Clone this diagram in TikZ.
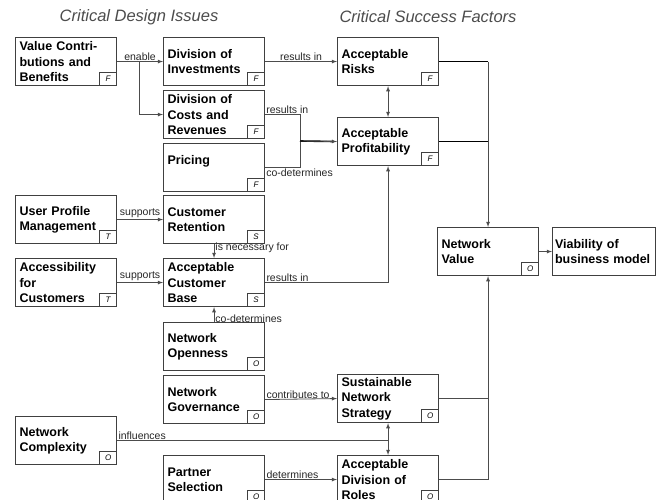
\documentclass[tikz,border=0pt]{standalone}
\usepackage{fontspec}
\setmainfont{Liberation Sans}
\usetikzlibrary{arrows}

\tikzset{
  box/.style={draw=black!75, line width=1.1pt, anchor=north west, minimum width=101pt,
    minimum height=48pt, text width=93pt, inner xsep=4pt, inner ysep=2pt, align=left,
    font=\bfseries\fontsize{12.5}{15.5}\selectfont},
  tag/.style={draw=black!75, line width=0.9pt, anchor=south east, minimum width=17pt,
    minimum height=13pt, inner sep=0pt, font=\itshape\fontsize{8}{8}\selectfont},
  lbl/.style={font=\fontsize{10.5}{12}\selectfont, inner sep=1pt, text=black!85},
  conn/.style={draw=black!70, line width=0.8pt},
  heavy/.style={draw=black, line width=1.6pt},
  title/.style={font=\itshape\fontsize{16.5}{18}\selectfont, text=black!70}
}
\newcommand{\tagat}[2]{\node[tag] (#1-tag) at (#1.south east) {#2};}

\begin{document}
\begin{tikzpicture}[x=1pt,y=-1pt,>=latex]
\useasboundingbox (0,0) rectangle (665,500);
\clip (0,0) rectangle (665,500);

% headings
\node[title] (cdi) at (139,17) {Critical Design Issues};
\node[title] (csf) at (428,17) {Critical Success Factors};

% design issues
\node[box] (vc) at (15,37) {Value Contri-\\butions and\\Benefits}; \tagat{vc}{F}
\node[box] (inv) at (163,37) {Division of\\Investments}; \tagat{inv}{F}
\node[box] (costs) at (163,90) {Division of\\Costs and\\Revenues}; \tagat{costs}{F}
\node[box] (pricing) at (163,143) {Pricing\\~}; \tagat{pricing}{F}
\node[box] (upm) at (15,195) {User Profile\\Management}; \tagat{upm}{T}
\node[box] (ret) at (163,195) {Customer\\Retention}; \tagat{ret}{S}
\node[box] (acc) at (15,258) {Accessibility\\for\\Customers}; \tagat{acc}{T}
\node[box] (base) at (163,258) {Acceptable\\Customer\\Base}; \tagat{base}{S}
\node[box] (open) at (163,322) {Network\\Openness}; \tagat{open}{O}
\node[box] (gov) at (163,375) {Network\\Governance}; \tagat{gov}{O}
\node[box] (cplx) at (15,416) {Network\\Complexity}; \tagat{cplx}{O}
\node[box] (partner) at (163,455) {Partner\\Selection}; \tagat{partner}{O}

% success factors
\node[box] (risks) at (337,37) {Acceptable\\Risks}; \tagat{risks}{F}
\node[box] (prof) at (337,117) {Acceptable\\Profitability}; \tagat{prof}{F}
\node[box] (nv) at (437,227) {Network\\Value}; \tagat{nv}{O}
\node[box, minimum width=103pt, text width=98pt, inner xsep=2.5pt] (via) at (552,227) {Viability of\\business model};
\node[box] (sus) at (337,374) {Sustainable\\Network\\Strategy}; \tagat{sus}{O}
\node[box] (roles) at (337,455) {Acceptable\\Division of\\Roles}; \tagat{roles}{O}

% connectors
\draw[conn,->] (vc.east) -- node[lbl,above] (l-enable) {enable} (inv.west);
\draw[conn,->] (vc.east) ++(22,0) |- (costs.west);
\draw[conn,->] (inv.east) -- node[lbl,above] (l-res1) {results in} (risks.west);
\coordinate (cobr) at (300,141);
\draw[conn] (costs.east) -| (cobr |- pricing.east) -- (pricing.east);
\node[lbl,anchor=south west] (l-res2) at (costs.east) {results in};
\node[lbl,anchor=north west] (l-codet1) at (pricing.east) {co-determines};
\draw[heavy,shorten >=5pt] (cobr) -- (prof.west);
\draw[conn,->] (cobr) -- (prof.west);
\draw[conn,<->] (risks.south) -- (prof.north);
\draw[heavy] (risks.east) -- (risks.east -| nv.north);
\draw[conn,->] (risks.east -| nv.north) -- (nv.north);
\draw[heavy] (prof.east) -- (prof.east -| nv.north);
\draw[conn,->] (nv.east) -- (via.west);

\draw[conn,->] (upm.east) -- node[lbl,above] (l-sup1) {supports} (ret.west);
\draw[conn,->] (ret.south) -- node[lbl,right,pos=0.3] (l-nec) {is necessary for} (base.north);
\draw[conn,->] (acc.east) -- node[lbl,above] (l-sup2) {supports} (base.west);
\draw[conn,->] (base.east) -| node[lbl,at start,anchor=south west] (l-res3) {results in} (prof.south);
\draw[conn,->] (open.north) -- node[lbl,right,pos=0.25] (l-codet2) {co-determines} (base.south);

\draw[conn,->] (gov.east) -- node[lbl,at start,anchor=south west] (l-contr) {contributes to} (sus.west);
\coordinate (infl) at (sus.south |- cplx.east);
\draw[conn] (cplx.east) -- node[lbl,at start,anchor=south west] (l-infl) {influences} (infl);
\draw[conn,->] (infl) -- (sus.south);
\draw[conn,->] (infl) -- (roles.north);
\draw[conn,->] (partner.east) -- node[lbl,at start,anchor=south west] (l-det) {determines} (roles.west);
\draw[conn] (sus.east) -- (sus.east -| nv.south);
\draw[conn,->] (roles.east) -| (nv.south);
\end{tikzpicture}
\end{document}
